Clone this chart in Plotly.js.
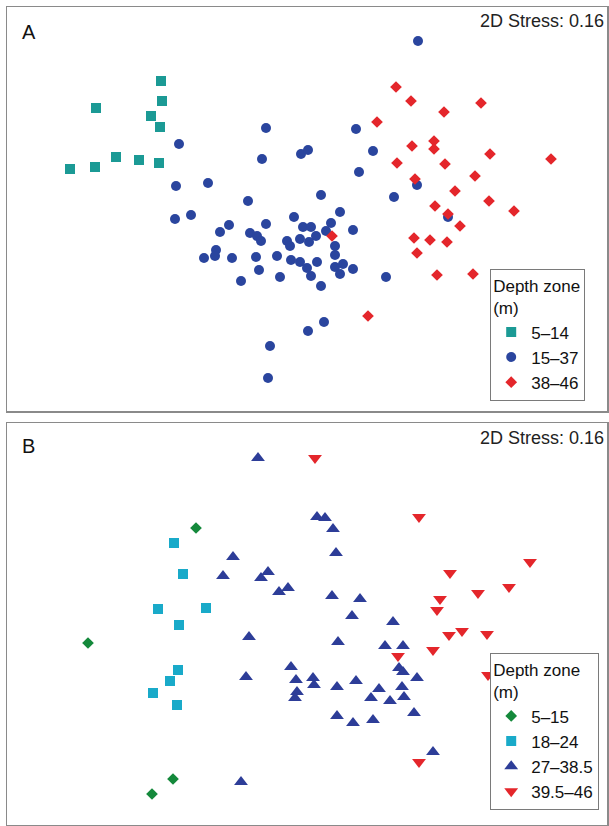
<!DOCTYPE html>
<html>
<head>
<meta charset="utf-8">
<script src="https://cdn.plot.ly/plotly-3.0.1.min.js"></script>
<style>html,body{margin:0;padding:0;background:#fff;}#chart{width:609px;height:826px;}</style>
</head>
<body>
<div id="chart"></div>
<script>
// Panel A: nMDS ordination coordinates (arbitrary units)
const aLabels = ["5–14", "15–37", "38–46"];
const aZone1X = [161,162,96,151,160,116,139,159,95,70];
const aZone1Y = [81,101,108,116,127,157,160,163,167,169];
const aZone2X = [418,266,356,179,373,301,308,262,359,208,176,321,394,248,340,191,175,294,266,229,331,303,311,353,326,220,250,257,261,287,290,300,316,309,335,216,215,204,232,256,277,335,291,300,317,307,311,259,335,343,340,353,280,241,321,386,417,448,324,308,270,268];
const aZone2Y = [41,128,129,144,151,154,150,159,172,183,186,195,197,201,212,215,219,217,224,225,223,227,227,230,231,232,233,236,241,241,246,239,236,242,246,250,256,258,258,257,256,255,260,262,262,268,276,270,267,264,274,269,277,281,286,277,185,217,322,331,346,378];
const aZone3X = [396,411,481,444,377,412,434,434,490,551,397,445,475,415,455,435,489,514,448,460,332,414,430,447,417,437,473,368];
const aZone3Y = [87,101,103,112,122,146,141,149,154,159,163,164,176,179,191,206,201,211,214,226,236,238,240,242,253,275,274,316];

// Panel B
const bLabels = ["5–15", "18–24", "27–38.5", "39.5–46"];
const bZone1X = [196,88,173,152];
const bZone1Y = [528,643,779,794];
const bZone2X = [174,183,158,206,179,178,170,153,177];
const bZone2Y = [543,574,609,608,625,670,681,693,705];
const bZone3X = [258,233,223,261,268,279,288,317,325,333,336,332,360,352,393,249,338,385,403,246,291,296,297,295,399,403,417,313,314,337,356,379,371,390,402,404,414,337,353,373,433,241];
const bZone3Y = [458,557,576,578,572,592,588,517,518,529,553,596,599,616,622,637,642,646,646,677,667,680,692,698,668,672,678,678,685,687,681,689,698,701,687,697,713,716,723,720,752,782];
const bZone4X = [315,419,530,509,478,450,440,437,462,487,449,433,398,533,488,419];
const bZone4Y = [458,517,562,587,593,573,599,610,631,634,635,650,656,667,675,762];

const stressText = "2D Stress: 0.16";
const FONT = "'Liberation Sans', Arial, Helvetica, sans-serif";

function tr(x, y, name, symbol, color, size, xa, ya, legend) {
  return {
    type: "scatter", mode: "markers", x: x, y: y, name: name,
    xaxis: xa, yaxis: ya, legend: legend,
    marker: {symbol: symbol, color: color, size: size, line: {width: 0}},
    hoverinfo: "skip"
  };
}

const data = [
  tr(aZone1X, aZone1Y, aLabels[0], "square", "#1b9a95", 10, "x", "y", "legend"),
  tr(aZone2X, aZone2Y, aLabels[1], "circle", "#2a459e", 10, "x", "y", "legend"),
  tr(aZone3X, aZone3Y, aLabels[2], "diamond", "#e4262b", 9, "x", "y", "legend"),
  tr(bZone1X, bZone1Y, bLabels[0], "diamond", "#14893b", 9, "x2", "y2", "legend2"),
  tr(bZone2X, bZone2Y, bLabels[1], "square", "#19aac9", 10, "x2", "y2", "legend2"),
  tr(bZone3X, bZone3Y, bLabels[2], "triangle-up", "#2d3d98", 12, "x2", "y2", "legend2"),
  tr(bZone4X, bZone4Y, bLabels[3], "triangle-down", "#e4262b", 12, "x2", "y2", "legend2")
];

const axBase = {showgrid: false, zeroline: false, showticklabels: false, ticks: "",
  showline: true, mirror: true, linecolor: "#8a8a8a", linewidth: 1.5, fixedrange: true};

const legBase = {
  bgcolor: "#ffffff", bordercolor: "#7a7a7a", borderwidth: 1.2,
  font: {family: FONT, size: 17, color: "#111"},
  xanchor: "left", yanchor: "bottom", tracegroupgap: 0, itemwidth: 30
};

const layout = {
  width: 609, height: 826,
  margin: {l: 0, r: 0, t: 0, b: 0},
  paper_bgcolor: "#ffffff", plot_bgcolor: "#ffffff",
  font: {family: FONT, color: "#111"},
  showlegend: true,
  xaxis: Object.assign({}, axBase, {domain: [7/609, 607/609], range: [7, 607], anchor: "y"}),
  yaxis: Object.assign({}, axBase, {domain: [1 - 411/826, 1 - 7/826], range: [411, 7], anchor: "x"}),
  xaxis2: Object.assign({}, axBase, {domain: [7/609, 607/609], range: [7, 607], anchor: "y2"}),
  yaxis2: Object.assign({}, axBase, {domain: [1/826, 1 - 423/826], range: [825, 423], anchor: "x2"}),
  legend: Object.assign({}, legBase, {x: 490/609, y: 1 - 401/826,
    title: {text: "Depth zone<br>(m)", font: {family: FONT, size: 17, color: "#111"}}}),
  legend2: Object.assign({}, legBase, {x: 490/609, y: 1 - 810/826,
    title: {text: "Depth zone<br>(m)", font: {family: FONT, size: 17, color: "#111"}}}),
  annotations: [
    {text: "A", xref: "paper", yref: "paper", x: 20/609, y: 1 - 32/826, xanchor: "left", yanchor: "middle",
     showarrow: false, font: {family: FONT, size: 20, color: "#111"}},
    {text: stressText, xref: "paper", yref: "paper", x: 606/609, y: 1 - 21/826, xanchor: "right", yanchor: "middle",
     showarrow: false, font: {family: FONT, size: 18, color: "#222"}},
    {text: "B", xref: "paper", yref: "paper", x: 20/609, y: 1 - 446/826, xanchor: "left", yanchor: "middle",
     showarrow: false, font: {family: FONT, size: 20, color: "#111"}},
    {text: stressText, xref: "paper", yref: "paper", x: 606/609, y: 1 - 438/826, xanchor: "right", yanchor: "middle",
     showarrow: false, font: {family: FONT, size: 18, color: "#222"}}
  ]
};

Plotly.newPlot("chart", data, layout, {displayModeBar: false, staticPlot: true});
</script>
</body>
</html>
